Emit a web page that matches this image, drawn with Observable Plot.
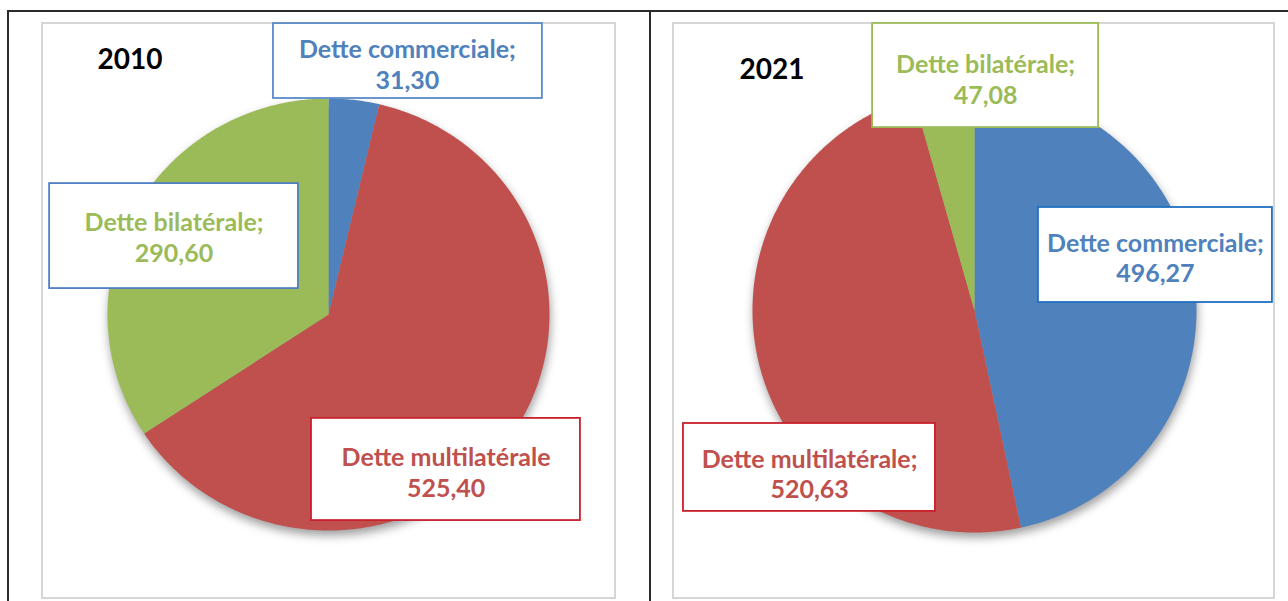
<!DOCTYPE html>
<html>
<head>
<meta charset="utf-8">
<script src="https://cdn.jsdelivr.net/npm/d3@7"></script>
<script src="https://cdn.jsdelivr.net/npm/@observablehq/plot@0.6"></script>
<style>
  html, body { margin: 0; padding: 0; background: #fff; }
  #page { position: relative; width: 1288px; height: 601px; overflow: hidden; background: #fff; font-family: Lato, "Open Sans", sans-serif; }
  .tline { position: absolute; background: #2b2b2b; }
  .frame { position: absolute; box-sizing: border-box; border: 2px solid #d6d6d6; background: #fff; }
  .panel { position: absolute; }
</style>
</head>
<body>
<div id="page">
  <div class="tline" style="left:7px;top:10px;width:1281px;height:1.5px"></div>
  <div class="tline" style="left:7px;top:10px;width:1.5px;height:600px"></div>
  <div class="tline" style="left:649px;top:10px;width:1.5px;height:600px"></div>
  <div class="frame" style="left:41px;top:22px;width:575px;height:577px"></div>
  <div class="frame" style="left:672px;top:22px;width:603px;height:577px"></div>
  <div class="panel" id="p2010" style="left:42px;top:23px"></div>
  <div class="panel" id="p2021" style="left:673px;top:23px"></div>
</div>
<script>
// ---------- data ----------
const categories = ["Dette commerciale", "Dette multilatérale", "Dette bilatérale"];
const colors = ["#4F81BD", "#C0504D", "#9BBB59"];
const years = ["2010", "2021"];
const values2010 = [31.30, 525.40, 290.60];
const values2021 = [496.27, 520.63, 47.08];
const labels2010 = ["Dette commerciale;", "Dette multilatérale", "Dette bilatérale;"];
const labels2021 = ["Dette commerciale;", "Dette multilatérale;", "Dette bilatérale;"];

// ---------- layout (pie-radius units, relative to the pie centre) ----------
const layout = {
  "2010": {
    width: 572, height: 574,
    xRange: [65, 507], yRange: [507, 75],
    title: {u: -0.898, v: 1.176},
    boxes: [
      {u1: -0.249, u2: 0.968, v1: 1.000, v2: 1.347, tu: 0.357, tv: 1.160, border: "#5B8BC8"},
      {u1: -0.077, u2: 1.140, v1: -0.954, v2: -0.481, tu: 0.532, tv: -0.728, border: "#C8202A"},
      {u1: -1.262, u2: -0.136, v1: 0.120, v2: 0.606, tu: -0.699, tv: 0.361, border: "#4F7FC4"}
    ]
  },
  "2021": {
    width: 601, height: 574,
    xRange: [79, 523], yRange: [509, 65],
    title: {u: -0.912, v: 1.081},
    boxes: [
      {u1: 0.288, u2: 1.342, v1: 0.036, v2: 0.464, tu: 0.815, tv: 0.241, border: "#1F70C0"},
      {u1: -1.311, u2: -0.176, v1: -0.905, v2: -0.509, tu: -0.743, tv: -0.733, border: "#C8202A"},
      {u1: -0.459, u2: 0.559, v1: 0.824, v2: 1.293, tu: 0.050, tv: 1.045, border: "#9BBB59"}
    ]
  }
};

const fmt = v => d3.format(".2f")(v).replace(".", ",");

function slicePoints(values) {
  const arcs = d3.pie().sort(null).startAngle(0).endAngle(2 * Math.PI)(values);
  const pts = [];
  arcs.forEach((a, i) => {
    const cat = categories[i];
    pts.push({cat, u: 0, v: 0});
    const n = Math.max(2, Math.ceil((a.endAngle - a.startAngle) / (Math.PI / 360)));
    for (let k = 0; k <= n; k++) {
      const t = a.startAngle + (a.endAngle - a.startAngle) * k / n;
      pts.push({cat, u: Math.sin(t), v: Math.cos(t)});
    }
    pts.push({cat, u: 0, v: 0});
  });
  return pts;
}

function drawPanel(year, values, labels, el) {
  const L = layout[year];
  const pts = slicePoints(values);
  const marks = [
    Plot.line(pts, {x: "u", y: "v", z: "cat", fill: "cat", stroke: "none",
      imageFilter: "drop-shadow(1px 5px 5px rgba(0,0,0,0.38))"}),
    Plot.text([year], {x: () => L.title.u, y: () => L.title.v, text: d => d,
      fontSize: 28, fontWeight: "bold", fill: "#000"})
  ];
  L.boxes.forEach((b, i) => {
    marks.push(Plot.rect([b], {x1: "u1", x2: "u2", y1: "v1", y2: "v2",
      fill: "#fff", stroke: b.border, strokeWidth: 1.8}));
    marks.push(Plot.text([i], {x: () => b.tu, y: () => b.tv,
      text: j => labels[j] + "\n" + fmt(values[j]),
      fill: colors[i], fontSize: 25, fontWeight: "bold", lineHeight: 1.22}));
  });
  const svg = Plot.plot({
    width: L.width, height: L.height, margin: 0,
    style: {fontFamily: "Lato, 'Open Sans', sans-serif", background: "transparent", overflow: "visible"},
    x: {domain: [-1, 1], range: L.xRange, axis: null},
    y: {domain: [-1, 1], range: L.yRange, axis: null},
    color: {domain: categories, range: colors},
    marks
  });
  svg.querySelectorAll('g[aria-label="line"]').forEach(g => {
    g.style.filter = "drop-shadow(1px 5px 5px rgba(0,0,0,0.38))";
  });
  el.appendChild(svg);
}

drawPanel(years[0], values2010, labels2010, document.getElementById("p2010"));
drawPanel(years[1], values2021, labels2021, document.getElementById("p2021"));
</script>
</body>
</html>
